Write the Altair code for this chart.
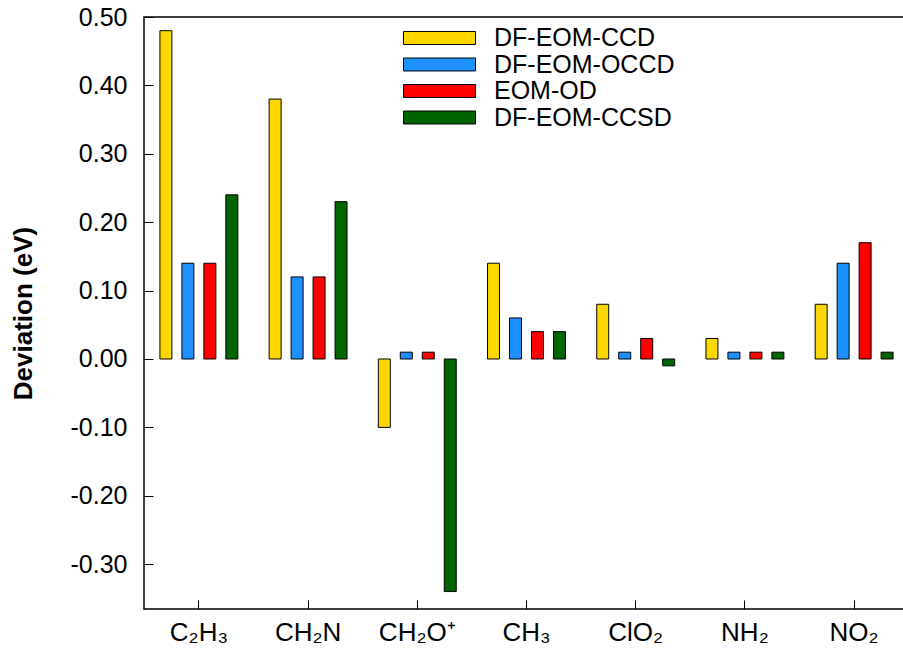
import altair as alt
import pandas as pd

# Molecules on the x axis and the four methods compared
molecules = ["C₂H₃", "CH₂N", "CH₂O⁺", "CH₃", "ClO₂", "NH₂", "NO₂"]
methods = ["DF-EOM-CCD", "DF-EOM-OCCD", "EOM-OD", "DF-EOM-CCSD"]
colors = ["#FFD700", "#1E90FF", "#FF0000", "#006400"]

# Deviation (eV) per molecule for each method
df_eom_ccd = [0.48, 0.38, -0.10, 0.14, 0.08, 0.03, 0.08]
df_eom_occd = [0.14, 0.12, 0.01, 0.06, 0.01, 0.01, 0.14]
eom_od = [0.14, 0.12, 0.01, 0.04, 0.03, 0.01, 0.17]
df_eom_ccsd = [0.24, 0.23, -0.34, 0.04, -0.01, 0.01, 0.01]

y_ticks = [-0.3, -0.2, -0.1, 0.0, 0.1, 0.2, 0.3, 0.4, 0.5]

series = [df_eom_ccd, df_eom_occd, eom_od, df_eom_ccsd]
rows = []
for method, values in zip(methods, series):
    for mol, v in zip(molecules, values):
        rows.append({"molecule": mol, "method": method, "deviation": v})
data = pd.DataFrame(rows)

FONT = "Liberation Sans"

x_enc = alt.X(
    "molecule:N",
    sort=molecules,
    scale=alt.Scale(paddingInner=0.195, paddingOuter=0.1),
    axis=alt.Axis(
        title=None,
        labelAngle=0,
        labelFontSize=26,
        labelFont=FONT,
        labelColor="black",
        labelPadding=10,
        domain=False,
        tickSize=9,
        tickColor="black",
        tickWidth=1,
        offset=-9,
        grid=False,
    ),
)

y_enc = alt.Y(
    "deviation:Q",
    scale=alt.Scale(domain=[-0.3655, 0.5], nice=False, zero=False),
    axis=alt.Axis(
        title="Deviation (eV)",
        titleFont=FONT,
        titleFontSize=26,
        titleFontWeight="bold",
        titleColor="black",
        titleAngle=-90,
        titleX=-130,
        titleY=296,
        titleAlign="center",
        titleBaseline="middle",
        values=y_ticks,
        labelExpr="replace(format(datum.value, '.2f'), '\u2212', '-')",
        labelFontSize=25,
        labelFont=FONT,
        labelColor="black",
        labelPadding=17,
        domain=False,
        tickSize=9,
        tickColor="black",
        tickWidth=1,
        offset=-9,
        grid=False,
    ),
)

bars = (
    alt.Chart(data)
    .mark_bar(stroke="black", strokeWidth=1)
    .encode(
        x=x_enc,
        y=y_enc,
        xOffset=alt.XOffset(
            "method:N",
            sort=methods,
            scale=alt.Scale(paddingInner=0.4545, paddingOuter=0.2273),
        ),
        color=alt.Color(
            "method:N",
            sort=methods,
            scale=alt.Scale(domain=methods, range=colors),
            legend=alt.Legend(
                title=None,
                orient="none",
                legendX=259,
                legendY=8,
                symbolType="M-1,-0.18H1V0.18H-1Z",
                symbolSize=5184,
                symbolStrokeColor="black",
                symbolStrokeWidth=1,
                symbolOpacity=1,
                clipHeight=26,
                rowPadding=0.5,
                labelOffset=18,
                labelFontSize=25,
                labelFont=FONT,
                labelColor="black",
                labelLimit=0,
                padding=0,
            ),
        ),
    )
)

# The frame runs past the right edge of the page, so the right padding is
# negative to keep the drawing exactly page-wide.
chart = (
    bars.properties(width=765, height=592)
    .configure(autosize=alt.AutoSizeParams(type="none"))
    .configure_view(stroke="black", strokeWidth=1.5)
    .properties(padding={"left": 144, "top": 17, "right": -6, "bottom": 48}, background="white")
)

chart.save("out.html", embed_options={"renderer": "svg", "actions": False})
